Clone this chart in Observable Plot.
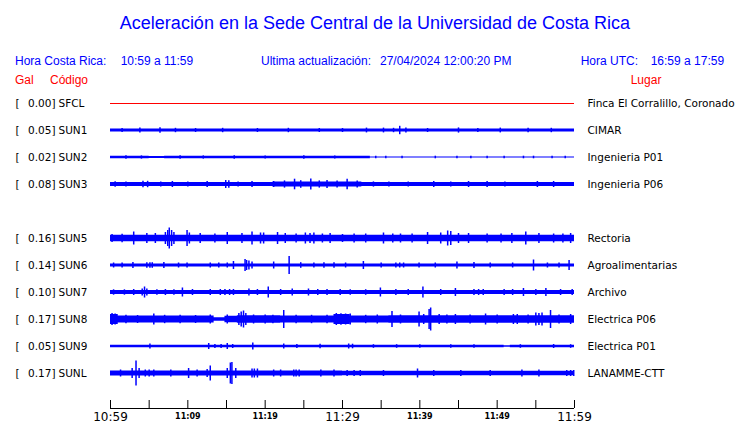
<!DOCTYPE html>
<html>
<head>
<meta charset="utf-8">
<script src="https://cdn.jsdelivr.net/npm/d3@7"></script>
<script src="https://cdn.jsdelivr.net/npm/@observablehq/plot@0.6"></script>
<style>
  html, body { margin: 0; padding: 0; background: #fff; }
  #wrap { position: relative; width: 740px; height: 423px; font-family: "Liberation Sans", Arial, sans-serif; overflow: hidden; }
  .h { position: absolute; white-space: nowrap; line-height: 1; }
  .l2 { font-size: 12px; color: #0000ff; top: 54.8px; }
  .l3 { font-size: 12px; color: #ff0000; top: 73.8px; }
  #chart { position: absolute; left: 0; top: 90px; }
</style>
</head>
<body>
<div id="wrap">
  <div class="h" style="left:5px;width:740px;text-align:center;top:13.8px;font-size:18px;color:#0000ff;">Aceleración en la Sede Central de la Universidad de Costa Rica</div>
  <div class="h l2" style="left:15px;">Hora Costa Rica:</div>
  <div class="h l2" style="left:120.7px;">10:59 a 11:59</div>
  <div class="h l2" style="left:261px;">Ultima actualización:</div>
  <div class="h l2" style="left:380px;">27/04/2024 12:00:20 PM</div>
  <div class="h l2" style="left:580.7px;">Hora UTC:</div>
  <div class="h l2" style="left:650.7px;">16:59 a 17:59</div>
  <div class="h l3" style="left:15px;">Gal</div>
  <div class="h l3" style="left:50px;">Código</div>
  <div class="h l3" style="left:630.7px;">Lugar</div>
  <div id="chart"></div>
</div>
<script>
// ---- data ----
const stations = ["SFCL","SUN1","SUN2","SUN3","SUN5","SUN6","SUN7","SUN8","SUN9","SUNL"];
const rowIndex = [0,1,2,3,5,6,7,8,9,10];
const peakGal = ["0.00","0.05","0.02","0.08","0.16","0.14","0.10","0.17","0.05","0.17"];
const places = ["Finca El Corralillo, Coronado","CIMAR","Ingenieria P01","Ingenieria P06","Rectoria","Agroalimentarias","Archivo","Electrica P06","Electrica P01","LANAMME-CTT"];
const tickMinutes = [0,5,10,15,20,25,30,35,40,45,50,55,60];
const majorLabelMinutes = [0,30,60];
const minorLabelMinutes = [10,20,40,50];
const startHour = 10, startMinute = 59;

// trace envelopes: [minute since 10:59, half-amplitude] (display units)
const baseSFCL = [[0,0]];
const eventsSFCL = [];
const baseSUN1 = [[0,1.6]];
const eventsSUN1 = [[1.5,2],[3.8,2.6],[6.4,2.8],[8.4,2.2],[11,2],[14.5,2.2],[19,2],[23,2.2],[27,2],[30,2],[33.1,2.4],[35.3,2.4],[36.6,2.2],[37.4,4.2],[38.2,2.4],[41,2],[45,2.6],[47.5,2],[50.4,2.4],[54,2.2],[57,2.2]];
const baseSUN2 = [[0,1.3],[5,0.9],[7,1.3],[33.6,0.6]];
const eventsSUN2 = [[2,1.8],[4,1.6],[9,1.8],[12,1.6],[16,1.8],[20,1.6],[25,1.8],[29,1.6],[34.3,1.3],[35.6,1.3],[37.7,1.3],[42,1.3],[44.8,1.3],[46.6,1.3],[48.7,1.3],[50.9,1.3],[53.4,1.3],[54.7,1.3],[57.1,1.3],[58.8,1.3]];
const baseSUN3 = [[0,2],[21,2.6],[32.5,2]];
const eventsSUN3 = [[0.6,2.8],[2,2.5],[4.2,3.3],[4.8,3.2],[6.5,2.6],[8,3],[10,2.6],[12.5,3],[14.9,4],[15.3,3.8],[16.5,2.6],[18.3,3],[21.1,3],[22.5,3.6],[23.8,5.3],[24.6,3.8],[25.9,5.5],[27,3.6],[28,4],[29.3,3.6],[30.6,5.3],[31.9,3.6],[34,2.6],[36,2.6],[38.5,2.6],[41.8,3],[44,2.6],[46.3,3],[48.7,3],[51,2.6],[55.2,3],[57.3,3]];
const baseSUN5 = [[0,3.3]];
const eventsSUN5 = [[0.2,4],[1.5,4.2],[3,6.5],[4.7,5],[5.8,5],[7.1,6],[7.4,8],[7.6,10.5],[7.9,8],[8.2,6],[9.9,8],[10.2,5.5],[11.6,5],[13.5,4.5],[15.1,6],[17,5],[18.3,6.5],[19.4,5.5],[19.8,5.5],[21.6,6],[22.6,5],[24,4.5],[25.2,5.5],[25.8,5],[26.3,5.5],[27.4,4.5],[28.4,5],[30,4],[31.5,4.5],[33,4.5],[35.3,5.5],[36.5,4.5],[37.5,4.5],[39,4.5],[41,6],[42.7,5.5],[43.6,7.5],[44,7],[45,5],[46.3,5],[48.7,4.5],[50.5,4.5],[51.9,5],[53.7,6.5],[55.4,5],[57.3,4.5],[58.5,4.5],[59.5,5]];
const baseSUN6 = [[0,1.5]];
const eventsSUN6 = [[0.4,2.5],[1.5,2.5],[2.9,3],[4.7,2.8],[5.1,2.8],[5.4,2.8],[6.9,3],[8.8,2.5],[9.9,2.5],[12.9,2.5],[14,2.5],[15.1,2.5],[15.9,4],[17.4,6],[17.6,5],[17.9,4.5],[18.3,3.5],[21.1,3.5],[23.1,9],[24.6,2.8],[26.3,2.5],[27.6,2.8],[28.9,2.8],[30.4,2.5],[32.7,4],[35,2.5],[36.9,2.5],[37.4,2.5],[37.9,2.5],[39.9,2.5],[42,2.5],[44.8,3.5],[47,3],[49.1,2.5],[52,2.5],[54.7,5.5],[56.5,2.5],[58,2.5],[59.3,5]];
const baseSUN7 = [[0,2]];
const eventsSUN7 = [[0.4,2.7],[1.8,2.7],[3,3],[4.1,3.5],[4.4,5.5],[4.7,3.5],[6,2.8],[7.1,3],[8.2,2.8],[9.3,4.5],[10.6,3],[12.9,3],[14.2,3],[14.8,3],[15.4,3],[15.9,3],[17.9,3.5],[19,3],[20.4,5.5],[22,3],[23.5,3.5],[25.6,3.5],[26.8,3],[28,3],[29.7,3],[31,2.8],[33,2.8],[34.9,4.5],[36.9,3],[38.5,3],[40.4,5.5],[42.7,3],[44.6,4],[47,3],[47.6,3],[48.2,3],[50.9,3],[52,3],[53.4,4],[55,3],[56.3,4],[58.2,3],[59.7,3]];
const baseSUN8 = [[0,5],[1,3.4],[13.4,1.8],[14.8,3.2],[16.4,3.8],[22,3.5],[28.9,5],[31,3.6],[36,3.8]];
const eventsSUN8 = [[0.2,6],[0.6,5.5],[2,4.2],[3.5,4],[5.6,5.5],[7,4.2],[9,4.2],[11,4],[12.9,4.5],[15.1,4.5],[16.6,6],[16.9,7.5],[17.2,8.5],[17.5,6],[18.5,4.5],[20,4.5],[21,4.2],[22.4,9],[24,4.2],[26,4.2],[28,4.2],[29.2,6],[29.8,5.8],[30.4,5.5],[31,5.5],[33,4.2],[34.5,4.5],[36.4,8],[37.5,4.5],[39.9,7.5],[40.5,5],[41.2,10],[41.4,11.5],[42.5,5],[43.5,4.5],[44.6,5],[46.5,4.5],[48.5,5.5],[50,4.5],[52.1,5],[52.6,5],[54,4.5],[55,6.5],[55.4,6],[55.8,6.5],[56.9,9],[58,4.5],[59.5,5]];
const baseSUN9 = [[0,1.3],[31,1.2],[50.9,0.7],[51.7,1.2]];
const eventsSUN9 = [[5.1,2.5],[12.7,3],[13.5,2],[14.3,2],[15.1,3],[15.8,2],[18.4,3.5],[22.4,2.5],[24.1,2],[27.1,2.2],[30.8,2.5],[31.3,2.3],[34,1.8],[37,1.8],[40,1.8],[44,1.8],[47,1.8],[53,1.8],[57.3,2],[59.5,1.8]];
const baseSUNL = [[0,2.5],[30,2.2]];
const eventsSUNL = [[1.3,3.5],[2.8,5],[3.3,12.5],[3.7,5],[4.5,3.5],[5,3.5],[5.6,3.5],[7.8,3.5],[10.1,5],[11.2,3.5],[12.5,4],[12.9,7.5],[15.1,5],[15.5,10.5],[15.7,11],[16.2,5],[18.3,4.5],[18.6,4.5],[19,4.5],[21.1,3.5],[22,3.5],[23.7,3.5],[24,3.5],[24.4,3.5],[27.2,3.5],[28.9,3.5],[30.6,3],[31.5,3],[32.3,3],[35.3,3],[39.7,4.5],[41.8,3],[45.3,3],[49.1,3],[53.2,3.5],[55.4,3.5],[59,3],[59.5,3],[59.9,3]];

const bases = [baseSFCL, baseSUN1, baseSUN2, baseSUN3, baseSUN5, baseSUN6, baseSUN7, baseSUN8, baseSUN9, baseSUNL];
const events = [eventsSFCL, eventsSUN1, eventsSUN2, eventsSUN3, eventsSUN5, eventsSUN6, eventsSUN7, eventsSUN8, eventsSUN9, eventsSUNL];

// ---- layout constants ----
const unitsPerRow = 27;       // display amplitude units per row spacing
const rowTopPx = 13, rowBottomPx = 283, axisPx = 318;
const axisRow = 10 + (axisPx - rowBottomPx) / unitsPerRow;

// ---- tables ----
const rows = stations.map((s, i) => ({station: s, row: rowIndex[i], peak: peakGal[i], place: places[i]}));
const areaRows = [];
const ruleRows = [];
stations.forEach((s, i) => {
  if (s === "SFCL") return;
  const b = bases[i];
  b.forEach(([m, a]) => areaRows.push({station: s, row: rowIndex[i], m, a}));
  areaRows.push({station: s, row: rowIndex[i], m: 60, a: b[b.length - 1][1]});
  events[i].forEach(([m, a]) => ruleRows.push({station: s, row: rowIndex[i], m, a}));
});
const sfclRow = rowIndex[stations.indexOf("SFCL")];

const fmt = m => {
  const t = startHour * 60 + startMinute + m;
  return `${Math.floor(t / 60)}:${String(t % 60).padStart(2, "0")}`;
};

const BLUE = "#0000ff";

const chart = Plot.plot({
  width: 740,
  height: 333,
  marginLeft: 110,
  marginRight: 166,
  marginTop: 0,
  marginBottom: 15,
  style: {fontFamily: "DejaVu Sans", fontSize: "10.5px", background: "white", color: "black", overflow: "visible"},
  x: {domain: [0, 60], label: null},
  y: {domain: [0, 10], range: [rowTopPx, rowBottomPx], axis: null, label: null},
  marks: [
    Plot.areaY(areaRows, {x: "m", y1: d => d.row - d.a / unitsPerRow, y2: d => d.row + d.a / unitsPerRow, z: "station", fill: BLUE, curve: "step-after"}),
    Plot.ruleX(ruleRows, {x: "m", y1: d => d.row - d.a / unitsPerRow, y2: d => d.row + d.a / unitsPerRow, stroke: BLUE, strokeWidth: 1.5}),
    Plot.ruleY([sfclRow], {x1: 0, x2: 60, stroke: "#ff0000", strokeWidth: 1}),
    Plot.text(rows, {y: "row", text: () => "[", frameAnchor: "left", dx: -95, textAnchor: "start", fill: "black"}),
    Plot.text(rows, {y: "row", text: d => d.peak + "]", frameAnchor: "left", dx: -55, textAnchor: "end", fill: "black"}),
    Plot.text(rows, {y: "row", text: "station", frameAnchor: "left", dx: -52, textAnchor: "start", fill: "black"}),
    Plot.text(rows, {y: "row", text: "place", frameAnchor: "right", dx: 13, textAnchor: "start", fill: "black"}),
    Plot.ruleY([axisRow], {x1: 0, x2: 60, stroke: "black"}),
    Plot.tickX(tickMinutes, {x: d => d, insetTop: axisPx - 8, stroke: "black"}),
    Plot.axisX({ticks: majorLabelMinutes, tickSize: 0, tickPadding: 3.5, fontSize: 12, tickFormat: fmt, label: null}),
    Plot.axisX({ticks: minorLabelMinutes, tickSize: 0, tickPadding: 4.8, fontSize: 8, fontWeight: "bold", tickFormat: fmt, label: null})
  ]
});
document.getElementById("chart").appendChild(chart);
</script>
</body>
</html>
